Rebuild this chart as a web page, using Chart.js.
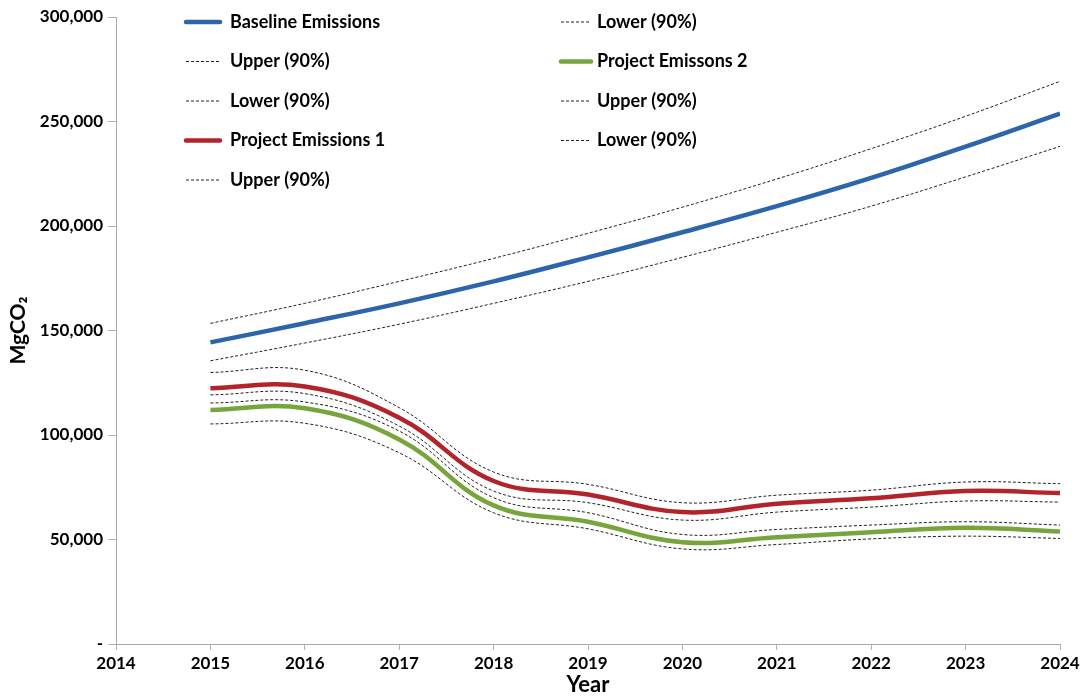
<!DOCTYPE html>
<html>
<head>
<meta charset="utf-8">
<script src="https://cdn.jsdelivr.net/npm/chart.js@4/dist/chart.umd.min.js"></script>
<style>
  html, body { margin: 0; padding: 0; background: #fff; }
  #wrap { width: 1087px; height: 698px; }
</style>
</head>
<body>
<div id="wrap"><canvas id="emissionsChart" width="1087" height="698"></canvas></div>
<script>
// Values (MgCO2 per year)
const years = [2015, 2016, 2017, 2018, 2019, 2020, 2021, 2022, 2023, 2024];

const baseline      = [144300, 153500, 163000, 173500, 185000, 197000, 209500, 223000, 238000, 253800];
const baselineUpper = [153400, 163000, 173500, 184500, 196500, 209000, 222500, 237000, 252500, 269200];
const baselineLower = [135500, 144000, 153000, 163000, 173500, 185000, 197000, 209500, 223500, 238100];

const project1      = [122400, 123200, 108300, 78000, 71500, 63100, 67100, 69700, 73200, 72200];
const project1Upper = [129900, 131000, 113100, 82300, 76400, 67600, 71200, 73600, 77500, 76700];
const project1Lower = [119200, 119800, 104300, 73200, 67600, 59300, 63100, 65500, 68400, 67900];

const project2      = [112000, 112800, 97900, 66300, 58500, 48700, 51100, 53500, 55600, 53800];
const project2Upper = [115300, 115800, 101900, 70000, 62800, 52400, 54800, 56900, 58500, 56900];
const project2Lower = [105300, 105600, 91500, 62800, 55100, 45500, 47600, 50300, 51600, 50500];

const yTicks = [0, 50000, 100000, 150000, 200000, 250000, 300000];

const FONT = "Lato, 'Open Sans', 'DejaVu Sans', sans-serif";

function pts(values) {
  return years.map((yr, i) => ({ x: yr, y: values[i] }));
}

function mainLine(label, values, color) {
  return {
    label: label,
    data: pts(values),
    borderColor: color,
    backgroundColor: color,
    borderWidth: 4.5,
    pointRadius: 0,
    tension: 0.4,
    fill: false
  };
}

function bandLine(label, values) {
  return {
    label: label,
    data: pts(values),
    borderColor: '#222222',
    backgroundColor: '#222222',
    borderWidth: 1,
    borderDash: [3, 2],
    pointRadius: 0,
    tension: 0.4,
    fill: false
  };
}

/* legend drawn in two columns, filled top to bottom like the Excel one */
const columnLegend = {
  id: 'columnLegend',
  afterDraw(chart) {
    const ctx = chart.ctx;
    const sets = chart.data.datasets;
    const rows = 5;
    const cols = [
      { x: 186, len: 34, text: 230 },
      { x: 561, len: 30, text: 597 }
    ];
    const rowY0 = 22, rowStep = 39.5;
    ctx.save();
    ctx.font = 'bold 18px ' + FONT;
    ctx.textBaseline = 'middle';
    ctx.fillStyle = '#000';
    sets.forEach((ds, i) => {
      const c = cols[Math.floor(i / rows)];
      const y = rowY0 + (i % rows) * rowStep;
      ctx.beginPath();
      ctx.strokeStyle = ds.borderColor;
      ctx.lineWidth = ds.borderWidth;
      ctx.lineCap = ds.borderDash ? 'butt' : 'round';
      ctx.setLineDash(ds.borderDash || []);
      ctx.moveTo(c.x, y);
      ctx.lineTo(c.x + c.len, y);
      ctx.stroke();
      ctx.setLineDash([]);
      ctx.fillText(ds.label, c.text, y);
    });
    ctx.restore();
  }
};

const ctx = document.getElementById('emissionsChart').getContext('2d');
new Chart(ctx, {
  type: 'line',
  data: {
    datasets: [
      mainLine('Baseline Emissions', baseline, '#2C65AC'),
      bandLine('Upper (90%)', baselineUpper),
      bandLine('Lower (90%)', baselineLower),
      mainLine('Project Emissions 1', project1, '#B2232A'),
      bandLine('Upper (90%)', project1Upper),
      bandLine('Lower (90%)', project1Lower),
      mainLine('Project Emissons 2', project2, '#78A43C'),
      bandLine('Upper (90%)', project2Upper),
      bandLine('Lower (90%)', project2Lower)
    ]
  },
  options: {
    responsive: false,
    animation: false,
    layout: { padding: { top: 17, right: 27, left: 6, bottom: 0 } },
    plugins: {
      legend: { display: false },
      tooltip: { enabled: false }
    },
    scales: {
      x: {
        type: 'linear',
        min: 2014,
        max: 2024,
        afterFit: s => { s.height = 54; },
        ticks: {
          stepSize: 1,
          color: '#000',
          font: { family: FONT, size: 17, weight: 'bold' },
          padding: 3,
          callback: v => String(v),
          maxRotation: 0
        },
        grid: { display: true, drawOnChartArea: false, drawTicks: true, tickLength: 6, color: '#b0b0b0' },
        border: { display: true, color: '#a8a8a8', width: 1 },
        title: {
          display: true,
          text: 'Year',
          color: '#000',
          font: { family: FONT, size: 22, weight: 'bold' },
          padding: { top: 0, bottom: 0 }
        }
      },
      y: {
        min: 0,
        max: 300000,
        afterFit: s => { s.width = 110; },
        afterBuildTicks: s => { s.ticks = yTicks.map(v => ({ value: v })); },
        ticks: {
          color: '#000',
          font: { family: FONT, size: 17, weight: 'bold' },
          padding: 5,
          callback: v => v === 0 ? '-' : v.toLocaleString('en-US')
        },
        grid: { display: true, drawOnChartArea: false, drawTicks: true, tickLength: 8, color: '#b0b0b0' },
        border: { display: true, color: '#a8a8a8', width: 1 },
        title: {
          display: true,
          text: 'MgCO₂',
          color: '#000',
          font: { family: FONT, size: 21, weight: 'bold' },
          padding: { top: 0, bottom: 0 }
        }
      }
    }
  },
  plugins: [columnLegend]
});
</script>
</body>
</html>
